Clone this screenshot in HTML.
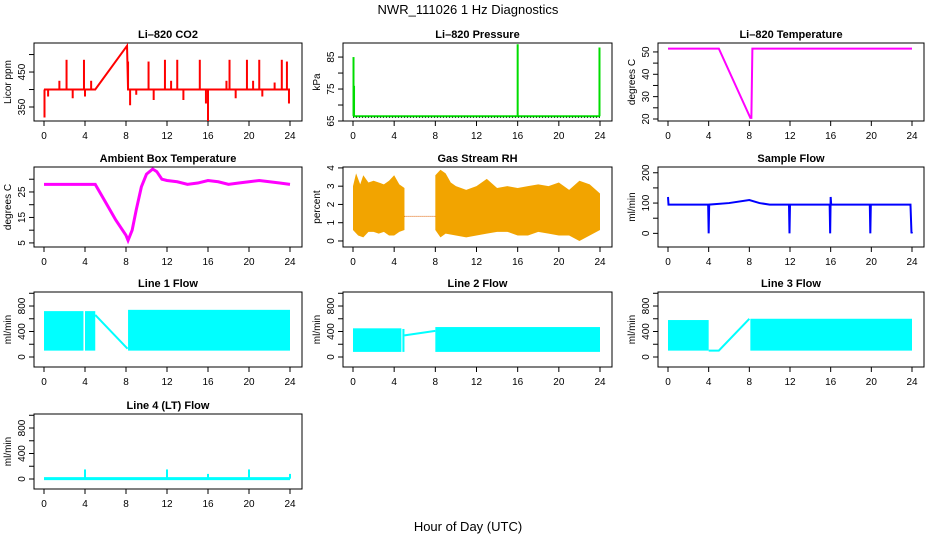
<!DOCTYPE html>
<html><head><meta charset="utf-8">
<style>
html,body{margin:0;padding:0;background:#fff;}
svg{display:block;font-family:"Liberation Sans",Arial,sans-serif;}
</style></head>
<body>
<svg id="c" width="936" height="540" viewBox="0 0 936 540" xmlns="http://www.w3.org/2000/svg">
<text x="468" y="14" text-anchor="middle" font-size="13">NWR_111026  1 Hz Diagnostics</text>
<text x="468" y="531" text-anchor="middle" font-size="13">Hour of Day (UTC)</text>
</svg>
<script>
// ---- data ----
const hourTicks = [0,4,8,12,16,20,24];
const co2Line = [[0,400],[5,400],[8.1,525],[8.2,400],[24,400]];
const co2Spikes = [[0.05,320],[0.4,380],[1.5,425],[2.2,485],[2.8,375],[3.9,485],[4.0,380],[4.6,425],[8.2,480],[8.4,355],[9.0,385],[10.2,480],[10.7,370],[11.8,485],[12.4,425],[13.0,485],[13.6,370],[15.2,485],[15.8,360],[16.0,310],[17.8,425],[18.1,485],[18.7,375],[19.8,485],[20.4,425],[21.0,485],[21.3,380],[22.5,420],[23.2,485],[23.7,480],[23.9,360]];
const presLine = [[0,66.5],[24,66.5]];
const presSpikes = [[0.05,85],[0.1,76],[16.0,89],[23.95,88]];
const tempLine = [[0,51.5],[5,51.5],[8.1,20.5],[8.2,20.5],[8.3,51.5],[24,51.5]];
const ambLine = [[0,28],[5,28],[6,21],[7,14],[8,8],[8.2,6],[8.6,10],[9,18],[9.5,27],[10,32],[10.6,34],[11,33],[11.5,30],[12,29.5],[13,29],[14,28],[15,28.5],[16,29.5],[17,29],[18,28],[19,28.5],[20,29],[21,29.5],[22,29],[23,28.5],[24,28]];
const rhUpperA = [[0,3.0],[0.3,3.7],[0.7,3.1],[1,3.6],[1.5,3.2],[2,3.3],[2.5,3.2],[3,3.1],[3.5,3.3],[4,3.6],[4.5,3.1],[5,2.9]];
const rhLowerA = [[0,0.6],[0.5,0.3],[1,0.2],[1.5,0.5],[2,0.5],[2.5,0.4],[3,0.5],[3.5,0.3],[4,0.3],[4.5,0.5],[5,0.6]];
const rhGap = [[5,1.35],[8,1.35]];
const rhUpperB = [[8,3.6],[8.5,3.9],[9,3.7],[9.5,3.2],[10,3.0],[11,2.8],[12,3.0],[13,3.4],[14,2.9],[15,3.0],[16,2.9],[17,3.0],[18,3.1],[19,3.0],[20,3.2],[21,2.8],[22,3.3],[23,3.1],[24,2.6]];
const rhLowerB = [[8,0.6],[8.5,0.2],[9,0.4],[10,0.3],[11,0.2],[12,0.3],[13,0.4],[14,0.5],[15,0.5],[16,0.3],[17,0.3],[18,0.5],[19,0.4],[20,0.3],[21,0.3],[22,0.0],[23,0.3],[24,0.6]];
const sampleLine = [[0,120],[0.05,95],[3.95,95],[4,0],[4.05,95],[6,100],[8,110],[9,100],[10,95],[11.9,95],[11.95,0],[12,95],[15.9,95],[15.95,0],[16,120],[16.05,95],[19.85,95],[19.9,0],[19.95,95],[23.85,95],[23.95,0],[24,5]];
const l1Bands = [[0,3.85,100,720],[4.0,5.0,100,720],[8.2,24,100,740]];
const l1Line = [[5,660],[8.15,130]];
const l2Bands = [[0,4.7,80,450],[4.8,5.0,80,440],[8.0,24,80,470]];
const l2Line = [[5,340],[8,410]];
const l3Bands = [[0,4,100,580],[8.1,24,100,600]];
const l3Line = [[4,100],[5,100],[8,600]];
const l4Line = [[0,5],[24,5]];
const l4Spikes = [[4,150],[12,150],[16,80],[20,150],[24,80]];

const NS='http://www.w3.org/2000/svg';
const svg=document.getElementById('c');
function mk(tag,attrs,parent){const e=document.createElementNS(NS,tag);for(const k in attrs)e.setAttribute(k,attrs[k]);(parent||svg).appendChild(e);return e;}

function panel(name,title,box,ylim,yticks,ylabels,ylab){
  const [L,T,R,B]=box;
  const g=mk('g',{});
  
  
  const x0=L+10,x1=R-12;
  const sx=h=>x0+(h/24)*(x1-x0);
  const sy=v=>B-(v-ylim[0])/(ylim[1]-ylim[0])*(B-T);
  const t=mk('text',{x:(L+R)/2,y:T-5,'text-anchor':'middle','font-size':'11','font-weight':'bold'},g);
  t.textContent=title;
  
  
  const bx=mk('rect',{x:L,y:T,width:R-L,height:B-T,fill:'none',stroke:'#000','stroke-width':1},g);
  
  
  const xa=mk('g',{},g);
  
  
  mk('line',{x1:sx(0),x2:sx(24),y1:B,y2:B,stroke:'#000'},xa);
  hourTicks.forEach(h=>{
    mk('line',{x1:sx(h),x2:sx(h),y1:B,y2:B+5,stroke:'#000'},xa);
    const tx=mk('text',{x:sx(h),y:B+18,'text-anchor':'middle','font-size':'10'},xa);tx.textContent=h;
  });
  const ya=mk('g',{},g);
  
  
  yticks.forEach(v=>{
    mk('line',{x1:L-5,x2:L,y1:sy(v),y2:sy(v),stroke:'#000'},ya);
    if(ylabels.includes(v)){
      const tx=mk('text',{x:L-9,y:sy(v),'text-anchor':'middle','font-size':'10',transform:`rotate(-90 ${L-9} ${sy(v)})`},ya);tx.textContent=v;
    }
  });
  const yl=mk('text',{x:L-23,y:(T+B)/2,'text-anchor':'middle','font-size':'10',transform:`rotate(-90 ${L-23} ${(T+B)/2})`},g);
  yl.textContent=ylab;
  
  
  const d=mk('g',{},g);
  
  
  return {sx,sy,d};
}
function line(p,pts,color,w,extra){
  const e=mk('polyline',Object.assign({points:pts.map(q=>p.sx(q[0])+','+p.sy(q[1])).join(' '),fill:'none',stroke:color,'stroke-width':w},extra||{}),p.d);
  return e;
}
function spikes(p,pts,base,color,w){
  pts.forEach(q=>{mk('line',{x1:p.sx(q[0]),x2:p.sx(q[0]),y1:p.sy(base),y2:p.sy(q[1]),stroke:color,'stroke-width':w},p.d);});
}
function envelope(p,up,lo,color){
  const pts=up.map(q=>p.sx(q[0])+','+p.sy(q[1])).concat(lo.slice().reverse().map(q=>p.sx(q[0])+','+p.sy(q[1])));
  mk('polygon',{points:pts.join(' '),fill:color},p.d);
}
function bands(p,bs,color){
  bs.forEach(b=>{mk('rect',{x:p.sx(b[0]),y:p.sy(b[3]),width:p.sx(b[1])-p.sx(b[0]),height:p.sy(b[2])-p.sy(b[3]),fill:color},p.d);});
}
const cols=[[34,302],[343,612],[658,924]];
const rows=[[43,121],[167,247],[292,367],[414,489]];
const fT=[0,200,400,600,800,1000],fL=[0,400,800],fY=[-157,1020];

let p=panel('co2','Li\u2013820 CO2',[cols[0][0],rows[0][0],cols[0][1],rows[0][1]],[310,533],[350,400,450,500],[350,450],'Licor ppm');
line(p,co2Line,'#ff0000',2);spikes(p,co2Spikes,400,'#ff0000',2);

p=panel('pressure','Li\u2013820 Pressure',[cols[1][0],rows[0][0],cols[1][1],rows[0][1]],[65,89.4],[65,70,75,80,85],[65,75,85],'kPa');
line(p,presLine,'#00dd00',2);spikes(p,presSpikes,66.5,'#00dd00',2);
line(p,presLine,'#000',1,{'stroke-dasharray':'1 2',transform:'translate(0,1)'});

p=panel('li820-temp','Li\u2013820 Temperature',[cols[2][0],rows[0][0],cols[2][1],rows[0][1]],[19.1,54],[20,25,30,35,40,45,50],[20,30,40,50],'degrees C');
line(p,tempLine,'#ff00ff',2);

p=panel('ambient-temp','Ambient Box Temperature',[cols[0][0],rows[1][0],cols[0][1],rows[1][1]],[3.4,34.8],[5,10,15,20,25,30],[5,15,25],'degrees C');
line(p,ambLine,'#ff00ff',3);

p=panel('rh','Gas Stream RH',[cols[1][0],rows[1][0],cols[1][1],rows[1][1]],[-0.33,4.05],[0,1,2,3,4],[0,1,2,3,4],'percent');
envelope(p,rhUpperA,rhLowerA,'#f2a400');envelope(p,rhUpperB,rhLowerB,'#f2a400');
line(p,rhGap,'#e06000',1,{'stroke-dasharray':'1 1'});

p=panel('sample-flow','Sample Flow',[cols[2][0],rows[1][0],cols[2][1],rows[1][1]],[-45,219],[0,50,100,150,200],[0,100,200],'ml/min');
line(p,sampleLine,'#0000ff',2);

p=panel('line1-flow','Line 1 Flow',[cols[0][0],rows[2][0],cols[0][1],rows[2][1]],fY,fT,fL,'ml/min');
bands(p,l1Bands,'#00ffff');line(p,l1Line,'#00ffff',2);

p=panel('line2-flow','Line 2 Flow',[cols[1][0],rows[2][0],cols[1][1],rows[2][1]],fY,fT,fL,'ml/min');
bands(p,l2Bands,'#00ffff');line(p,l2Line,'#00ffff',2);

p=panel('line3-flow','Line 3 Flow',[cols[2][0],rows[2][0],cols[2][1],rows[2][1]],fY,fT,fL,'ml/min');
bands(p,l3Bands,'#00ffff');line(p,l3Line,'#00ffff',2);

p=panel('line4-flow','Line 4 (LT) Flow',[cols[0][0],rows[3][0],cols[0][1],rows[3][1]],fY,fT,fL,'ml/min');
line(p,l4Line,'#00ffff',3);spikes(p,l4Spikes,5,'#00ffff',2);
</script>
</body></html>
